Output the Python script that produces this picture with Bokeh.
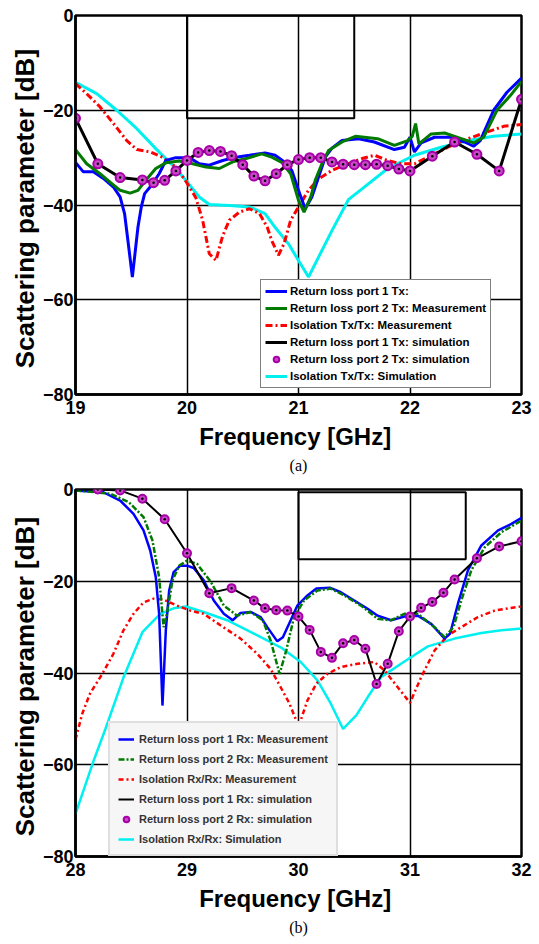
from bokeh.plotting import figure
from bokeh.models import Range1d, Legend, LegendItem, Title, FixedTicker
from bokeh.layouts import column
from bokeh.embed import file_html
from bokeh.resources import INLINE

# ---------------- (a) Tx panel data ----------------
top_ticks_x = [19, 20, 21, 22, 23]
ticks_y = [-80, -60, -40, -20, 0]

top_rl1_meas_x = [19.0, 19.07, 19.16, 19.25, 19.34, 19.40, 19.44, 19.47, 19.51, 19.56, 19.59, 19.62, 19.68, 19.75,
                  19.81, 19.90, 20.02, 20.11, 20.2, 20.32, 20.44, 20.56, 20.70, 20.79, 20.88, 20.94, 21.0, 21.06,
                  21.12, 21.18, 21.24, 21.30, 21.39, 21.54, 21.68, 21.86, 21.95, 22.0, 22.04, 22.10, 22.22, 22.37,
                  22.49, 22.57, 22.63, 22.75, 22.87, 23.0]
top_rl1_meas_y = [-31, -33, -33, -34.4, -36.2, -38.3, -41.8, -47.5, -55.2, -44.7, -40.4, -37.6, -35.9, -33.4,
                  -30.6, -30.0, -30.0, -31.3, -31.6, -30.6, -29.9, -29.5, -29.0, -29.5, -31, -32.7, -36.9, -40.8,
                  -38.3, -34.1, -29.9, -28.0, -26.4, -26.0, -26.7, -28.3, -27.8, -25.7, -28.8, -26.9, -25.7, -25.7,
                  -26.7, -27.6, -26.4, -20, -16.2, -13.2]

top_rl2_meas_x = [19.0, 19.10, 19.22, 19.31, 19.40, 19.49, 19.56, 19.64, 19.72, 19.81, 19.93, 20.05, 20.17, 20.29,
                  20.41, 20.53, 20.67, 20.76, 20.85, 20.93, 21.0, 21.05, 21.11, 21.15, 21.21, 21.27, 21.39, 21.51,
                  21.71, 21.86, 21.98, 22.02, 22.05, 22.08, 22.19, 22.31, 22.46, 22.57, 22.66, 22.78, 22.90, 23.0]
top_rl2_meas_y = [-28.3, -31.3, -33.4, -35.2, -36.9, -37.5, -36.9, -34.5, -32.3, -31.1, -30.7, -31.3, -32, -32.3,
                  -30.9, -30.2, -29.2, -29.9, -31, -33.4, -39, -41.5, -38.3, -34.8, -31.3, -28.5, -26.7, -25.5,
                  -26, -27.4, -26.4, -25.5, -22.8, -27.1, -25, -24.8, -26, -26.9, -25.7, -20, -16.9, -13.9]

top_iso_meas_x = [19.0, 19.10, 19.22, 19.34, 19.46, 19.55, 19.67, 19.78, 19.90, 19.99, 20.08, 20.14, 20.20, 20.26,
                  20.32, 20.38, 20.47, 20.56, 20.65, 20.72, 20.76, 20.82, 20.87, 20.93, 21.0, 21.09, 21.18, 21.30,
                  21.42, 21.57, 21.68, 21.80, 21.92, 22.04, 22.16, 22.34, 22.52, 22.69, 22.84, 23.0]
top_iso_meas_y = [-14.4, -16.5, -19.3, -22.8, -26.4, -28.3, -28.8, -29.9, -32, -35, -38.5, -43.2, -50.3, -51.7,
                  -46.5, -43.2, -41.5, -40.8, -41.8, -44.7, -47.5, -50.6, -48.2, -43.2, -40.4, -36.9, -34.5, -32.7,
                  -31.5, -30.2, -29.5, -30.6, -31.3, -31.3, -29.9, -27.8, -26, -24.6, -23.4, -23]

top_sim_x = [19.0, 19.2, 19.4, 19.6, 19.7, 19.8, 19.9, 20.0, 20.1, 20.2, 20.3, 20.4, 20.5, 20.6, 20.7, 20.8, 20.9,
             21.0, 21.1, 21.2, 21.3, 21.4, 21.5, 21.6, 21.7, 21.8, 21.9, 22.0, 22.2, 22.4, 22.6, 22.8, 23.0]
top_rl1_sim_y = [-21.7, -31.3, -34.2, -34.7, -35.3, -34.8, -32.8, -30.6, -28.9, -28.5, -28.7, -29.6, -31.5, -33.9,
                 -34.9, -33.4, -31.5, -30.4, -30.0, -30.0, -30.9, -31.4, -31.5, -31.5, -31.4, -31.7, -32.4, -32.8,
                 -29.7, -26.7, -29.3, -32.8, -17.7]
top_rl2_sim_y = list(top_rl1_sim_y)

top_iso_sim_x = [19.0, 19.19, 19.37, 19.55, 19.72, 19.87, 19.99, 20.11, 20.2, 20.38, 20.56, 20.70, 20.79, 20.91,
                 21.0, 21.09, 21.18, 21.30, 21.45, 21.57, 21.80, 22.04, 22.28, 22.52, 22.75, 23.0]
top_iso_sim_y = [-14.1, -16.5, -20, -23.9, -28.1, -31.6, -34.8, -38.3, -39.9, -40.1, -40.4, -41.8, -44.7, -48.2,
                 -51.7, -55.2, -51, -45.4, -38.8, -36.6, -32.3, -29.5, -27.8, -26.4, -25.5, -25.0]

top_mask_x = [20.0, 21.5]
top_mask_y = [-21.7, 0.0]

top_labels = ["Return loss port 1 Tx:", "Return loss port 2 Tx: Measurement", "Isolation Tx/Tx: Measurement",
              "Return loss port 1 Tx: simulation", "Return loss port 2 Tx: simulation", "Isolation Tx/Tx: Simulation"]

# ---------------- (b) Rx panel data ----------------
bot_ticks_x = [28, 29, 30, 31, 32]

bot_rl1_meas_x = [28.0, 28.25, 28.40, 28.52, 28.61, 28.67, 28.72, 28.75, 28.78, 28.81, 28.84, 28.88, 28.94, 29.0,
                  29.06, 29.15, 29.24, 29.33, 29.41, 29.48, 29.57, 29.66, 29.72, 29.81, 29.86, 29.93, 29.99, 30.08,
                  30.16, 30.28, 30.38, 30.50, 30.62, 30.71, 30.83, 30.95, 31.07, 31.19, 31.27, 31.31, 31.36, 31.43,
                  31.52, 31.64, 31.79, 31.91, 32.0]
bot_rl1_meas_y = [-0.2, -0.6, -2.4, -5.3, -8.9, -13.3, -19.1, -27.1, -47.1, -30.7, -22, -18, -16.6, -16.6,
                  -17.1, -19.8, -24.2, -27.1, -28.5, -26.9, -26.7, -27.8, -30, -33.1, -32.2, -28.5, -25.3, -23.1,
                  -21.6, -21.4, -22.4, -24.2, -26, -27.5, -28.5, -27.7, -27.5, -29.3, -31.4, -32.5, -31.4, -24.9,
                  -17.6, -12.2, -8.9, -7.5, -6.2]

bot_rl2_meas_x = [28.0, 28.31, 28.48, 28.61, 28.69, 28.75, 28.79, 28.82, 28.87, 28.93, 29.0, 29.09, 29.21, 29.33,
                  29.45, 29.57, 29.68, 29.75, 29.83, 29.89, 29.96, 30.05, 30.17, 30.29, 30.41, 30.56, 30.71, 30.83,
                  30.95, 31.07, 31.22, 31.31, 31.39, 31.46, 31.55, 31.67, 31.82, 32.0]
bot_rl2_meas_y = [-0.2, -0.9, -2.8, -6, -11.1, -19.1, -30, -27.1, -19.8, -16.6, -15.5, -16.2, -20, -25.3,
                  -27.5, -26.7, -28.5, -32.9, -40.2, -35.1, -27.8, -24.2, -22, -21.6, -23.1, -25.3, -28.2, -28.5,
                  -27.1, -27.1, -30, -32.2, -30, -24.2, -17.6, -12.6, -9.3, -6.8]

bot_iso_meas_x = [28.0, 28.06, 28.13, 28.24, 28.34, 28.43, 28.52, 28.61, 28.70, 28.79, 28.91, 29.03, 29.15, 29.30,
                  29.48, 29.63, 29.75, 29.84, 29.92, 29.99, 30.02, 30.08, 30.16, 30.26, 30.38, 30.53, 30.68, 30.77,
                  30.89, 31.0, 31.10, 31.22, 31.34, 31.46, 31.61, 31.76, 31.88, 32.0]
bot_iso_meas_y = [-54.5, -48.9, -44.5, -40.2, -35.8, -30.7, -27.1, -24.6, -23.8, -24.0, -25.3, -26.4, -27.1, -29.6,
                  -32.5, -35.8, -39.1, -43.1, -46.7, -51.0, -50.3, -46, -42.3, -40.2, -38.7, -38, -37.6, -39.4,
                  -43.1, -46.5, -40.9, -35.1, -31.8, -30, -27.8, -26.4, -25.9, -25.5]

bot_rl1_sim_x = [28.0, 28.2, 28.4, 28.6, 28.8, 29.0, 29.2, 29.4, 29.6, 29.7, 29.8, 29.9, 30.0, 30.1, 30.2, 30.3,
                 30.4, 30.5, 30.6, 30.7, 30.8, 30.9, 31.0, 31.1, 31.2, 31.3, 31.4, 31.6, 31.8, 32.0]
bot_rl1_sim_y = [0.0, 0.0, -0.2, -2.0, -6.5, -13.9, -22.6, -21.5, -24.2, -25.9, -26.3, -26.4, -27.7, -30.6, -35.4,
                 -36.7, -33.5, -32.8, -34.7, -42.4, -38, -30.9, -27.7, -25.8, -24.5, -22.5, -19.6, -15.0, -12.4, -11.3]
bot_rl2_sim_x = bot_rl1_sim_x[1:]
bot_rl2_sim_y = bot_rl1_sim_y[1:]

bot_iso_sim_x = [28.0, 28.16, 28.27, 28.43, 28.60, 28.76, 28.88, 28.99, 29.15, 29.36, 29.60, 29.84, 30.02, 30.17,
                 30.29, 30.40, 30.52, 30.62, 30.74, 30.95, 31.16, 31.40, 31.64, 31.82, 32.0]
bot_iso_sim_y = [-70.7, -59.3, -52.1, -41, -31.1, -27.1, -25.9, -25.5, -26.7, -28.5, -31.4, -34.4, -37.6, -41.6,
                 -46.7, -52.2, -49.2, -45.3, -40.9, -37.5, -34.2, -32.5, -31.3, -30.7, -30.3]

bot_mask_x = [30.0, 31.5]
bot_mask_y = [-15.2, -0.6]

bot_labels = ["Return loss port 1 Rx: Measurement", "Return loss port 2 Rx: Measurement",
              "Isolation Rx/Rx: Measurement", "Return loss port 1 Rx: simulation",
              "Return loss port 2 Rx: simulation", "Isolation Rx/Rx: Simulation"]

FONT = "Liberation Sans"


def base_figure(height, xr, xticks, mb_top, mb_bottom, mb_left, mb_right, sub):
    p = figure(width=539, height=height, output_backend="svg", toolbar_location=None,
               x_range=Range1d(*xr), y_range=Range1d(-80, 0),
               min_border_top=mb_top, min_border_bottom=mb_bottom,
               min_border_left=mb_left, min_border_right=mb_right)
    p.outline_line_color = "black"
    p.outline_line_width = 2.5
    p.background_fill_color = "white"
    p.border_fill_color = "white"
    p.xaxis.ticker = FixedTicker(ticks=xticks)
    p.yaxis.ticker = FixedTicker(ticks=ticks_y)
    for ax in (p.xaxis[0], p.yaxis[0]):
        ax.axis_line_width = 2.5
        ax.axis_line_color = "black"
        ax.major_tick_line_color = None
        ax.minor_tick_line_color = None
        ax.major_tick_out = 0
        ax.major_tick_in = 0
        ax.major_label_text_font = FONT
        ax.major_label_text_font_style = "bold"
        ax.major_label_text_font_size = "18px"
        ax.major_label_text_color = "black"
        ax.axis_label_text_font = FONT
        ax.axis_label_text_font_style = "bold"
        ax.axis_label_text_color = "black"
    p.xaxis.major_label_standoff = 6
    p.yaxis.major_label_standoff = 2
    p.xaxis.axis_label = "Frequency  [GHz]"
    p.xaxis.axis_label_text_font_size = "24px"
    p.xaxis.axis_label_standoff = 6
    p.yaxis.axis_label = "Scattering parameter  [dB]"
    p.yaxis.axis_label_text_font_size = "26px"
    p.yaxis.axis_label_standoff = 0
    for g in (p.xgrid[0], p.ygrid[0]):
        g.grid_line_color = "black"
        g.grid_line_width = 1.5
        g.grid_line_alpha = 1.0
    p.add_layout(Title(text=sub, align="center", text_font="Liberation Serif", text_font_style="normal",
                       text_font_size="16px", text_color="black", standoff=4), "below")
    return p


# ---------------- panel (a) ----------------
p1 = base_figure(475, (19, 23), top_ticks_x, 15, 81, 72, 18, "(a)")
p1.quad(left=top_mask_x[0], right=top_mask_x[1], bottom=top_mask_y[0], top=top_mask_y[1],
        fill_color=None, line_color="black", line_width=2)
r_cyan = p1.line(top_iso_sim_x, top_iso_sim_y, line_color="#00f0f0", line_width=3)
r_red = p1.line(top_iso_meas_x, top_iso_meas_y, line_color="#ff0000", line_width=3, line_dash="7 3 2 3")
r_blue = p1.line(top_rl1_meas_x, top_rl1_meas_y, line_color="#0000ff", line_width=3)
r_green = p1.line(top_rl2_meas_x, top_rl2_meas_y, line_color="#007a00", line_width=3)
r_black = p1.line(top_sim_x, top_rl1_sim_y, line_color="black", line_width=3)
r_mark = p1.scatter(top_sim_x, top_rl2_sim_y, marker="circle", size=9, fill_color="#c848c8",
                    line_color="#a800a8", line_width=2)
p1.scatter(top_sim_x, top_rl2_sim_y, marker="circle", size=2.5, fill_color="black", line_color=None)

leg1 = Legend(items=[LegendItem(label=top_labels[0], renderers=[r_blue]),
                     LegendItem(label=top_labels[1], renderers=[r_green]),
                     LegendItem(label=top_labels[2], renderers=[r_red]),
                     LegendItem(label=top_labels[3], renderers=[r_black]),
                     LegendItem(label=top_labels[4], renderers=[r_mark]),
                     LegendItem(label=top_labels[5], renderers=[r_cyan])],
              location=(185, 6), orientation="vertical",
              label_text_font=FONT, label_text_font_style="bold", label_text_font_size="11.5px",
              label_text_color="black", glyph_width=22, glyph_height=14, label_height=14,
              spacing=3, padding=4, margin=0, label_standoff=3,
              border_line_color="black", border_line_width=1.5, background_fill_color="white",
              background_fill_alpha=1.0)
p1.add_layout(leg1, "center")

# ---------------- panel (b) ----------------
p2 = base_figure(469, (28, 32), bot_ticks_x, 14, 88, 75, 17, "(b)")
p2.quad(left=bot_mask_x[0], right=bot_mask_x[1], bottom=bot_mask_y[0], top=bot_mask_y[1],
        fill_color=None, line_color="black", line_width=2)
s_cyan = p2.line(bot_iso_sim_x, bot_iso_sim_y, line_color="#00f0f0", line_width=2.5)
s_red = p2.line(bot_iso_meas_x, bot_iso_meas_y, line_color="#ff0000", line_width=2.5, line_dash="5 3 2 3")
s_blue = p2.line(bot_rl1_meas_x, bot_rl1_meas_y, line_color="#0000ff", line_width=2.5)
s_green = p2.line(bot_rl2_meas_x, bot_rl2_meas_y, line_color="#007a00", line_width=2.5, line_dash="6 2 2 2")
s_black = p2.line(bot_rl1_sim_x, bot_rl1_sim_y, line_color="black", line_width=2)
s_mark = p2.scatter(bot_rl2_sim_x, bot_rl2_sim_y, marker="circle", size=8, fill_color="#c848c8",
                    line_color="#a800a8", line_width=2)
p2.scatter(bot_rl2_sim_x, bot_rl2_sim_y, marker="circle", size=2.5, fill_color="black", line_color=None)

leg2 = Legend(items=[LegendItem(label=bot_labels[0], renderers=[s_blue]),
                     LegendItem(label=bot_labels[1], renderers=[s_green]),
                     LegendItem(label=bot_labels[2], renderers=[s_red]),
                     LegendItem(label=bot_labels[3], renderers=[s_black]),
                     LegendItem(label=bot_labels[4], renderers=[s_mark]),
                     LegendItem(label=bot_labels[5], renderers=[s_cyan])],
              location=(33, 0), orientation="vertical",
              label_text_font=FONT, label_text_font_style="bold", label_text_font_size="11px",
              label_text_color="#333333", glyph_width=16, glyph_height=14, label_height=15,
              spacing=5, padding=8, margin=0, label_standoff=5,
              border_line_color="#c8c8c8", border_line_width=2, background_fill_color="#f6f6f6",
              background_fill_alpha=1.0)
p2.add_layout(leg2, "center")

layout = column(p1, p2, spacing=0)
open("out.html", "w").write(file_html(layout, INLINE))
